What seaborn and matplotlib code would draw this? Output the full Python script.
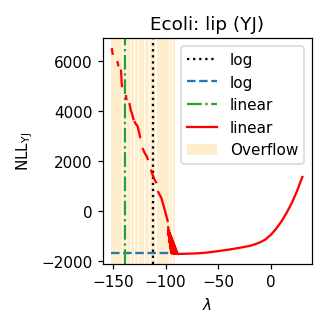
import numpy as np
import pandas as pd
import matplotlib
matplotlib.use("Agg")
import matplotlib.pyplot as plt
import seaborn as sns
from matplotlib.lines import Line2D
from matplotlib.patches import Patch

# ==========================
# Data
# ==========================

lam = [
    -151.0, -150.3,
    -145.6, -145.0,
    -142.3, -142.0, -141.8, -141.4,
    -137.6, -137.2,
    -134.2, -133.6, -133.0, -132.0, -131.2, -130.5,
    -129.2, -128.0, -127.0, -126.0, -125.0, -124.2,
    -121.5, -120.5, -119.5, -118.0, -117.0,
    -113.7, -112.0, -110.5, -109.0,
    -107.0, -104.0, -101.0, -98.0,
    -97.5, -97.0, -96.8, -96.4, -96.0, -95.6, -95.2, -94.8, -94.4, -94.0,
    -93.5, -93.0, -92.5, -92.0, -91.5, -91.0, -90.5, -90.0, -89.5, -89.0,
    -88.5, -88.0, -85.0, -80.0, -70.0, -60.0, -50.0, -40.0, -30.0, -20.0,
    -15.0, -10.0, -5.0, 0.0, 5.0, 10.0, 15.0, 20.0, 25.0, 30.0,
]

nll = [
    6480, 6300,
    5960, 5840,
    5620, 5420, 5200, 5000,
    4600, 4480,
    4280, 4150, 4020, 3920, 3780, 3680,
    3560, 3460, 3440, 3300, 3120, 2960,
    2480, 2380, 2300, 2200, 2080,
    1610, 1420, 1260, 1150,
    760, 520, 80, -400,
    -650, -1000, -760, -1250, -870, -1500, -960, -1680, -1050, -1700,
    -1150, -1710, -1260, -1715, -1370, -1718, -1480, -1720, -1590, -1720,
    -1700, -1722, -1720, -1714, -1700, -1665, -1610, -1550, -1480, -1400,
    -1335, -1255, -1140, -960, -720, -430, -80, 320, 800, 1360,
]

segment = (
    [0] * 2 + [1] * 2 + [2] * 4 + [3] * 2 + [4] * 6 + [5] * 6
    + [6] * 5 + [7] * 4 + [8] * 4 + [9] * 40
)

overflow_spans = [
    (-151.6, -141.6),
    (-140.6, -138.0),
    (-137.0, -134.2),
    (-133.2, -130.0),
    (-129.0, -126.0),
    (-125.0, -120.6),
    (-119.6, -115.8),
    (-114.6, -109.6),
    (-108.6, -96.8),
    (-95.8, -93.6),
    (-92.9, -91.0),
]

lam_log = -112
lam_linear = -139
nll_min_x = [-151.5, -89.0]
nll_min_y = [-1690, -1690]

df = pd.DataFrame({
    "lam": lam,
    "nll": nll,
    "segment": segment
})

# ==========================
# Plot
# ==========================

fig, ax = plt.subplots(figsize=(2.99, 2.99), dpi=110)

for start, end in overflow_spans:
    ax.axvspan(start, end, color="orange", alpha=0.2, lw=0)

ax.axvline(lam_log, color="black", linestyle=":", lw=1.5)

ax.plot(nll_min_x, nll_min_y, color="#1f77b4", linestyle="--", lw=1.5)

ax.axvline(lam_linear, color="#2ca02c", linestyle="-.", lw=1.5)

# one call per unbroken piece so the gaps stay open
for seg_id, part in df.groupby("segment"):
    sns.lineplot(
        data=part,
        x="lam",
        y="nll",
        estimator=None,
        sort=False,
        color="red",
        lw=1.5,
        ax=ax
    )

ax.set_xlim(-159.5, 39)
ax.set_ylim(-2120, 6920)
ax.set_xticks([-150, -100, -50, 0])
ax.set_yticks([-2000, 0, 2000, 4000, 6000])

ax.set_title("Ecoli: lip (YJ)")
ax.set_xlabel(r"$\lambda$")
ax.set_ylabel(r"NLL$_{\mathrm{YJ}}$")

handles = [
    Line2D([], [], color="black", linestyle=":", lw=1.5),
    Line2D([], [], color="#1f77b4", linestyle="--", lw=1.5),
    Line2D([], [], color="#2ca02c", linestyle="-.", lw=1.5),
    Line2D([], [], color="red", lw=1.5),
    Patch(facecolor="orange", alpha=0.2),
]

ax.legend(
    handles,
    ["log", "log", "linear", "linear", "Overflow"],
    loc="upper right"
)

plt.subplots_adjust(left=0.313, right=0.948, top=0.881, bottom=0.195)

plt.savefig("out.png")
plt.close()
